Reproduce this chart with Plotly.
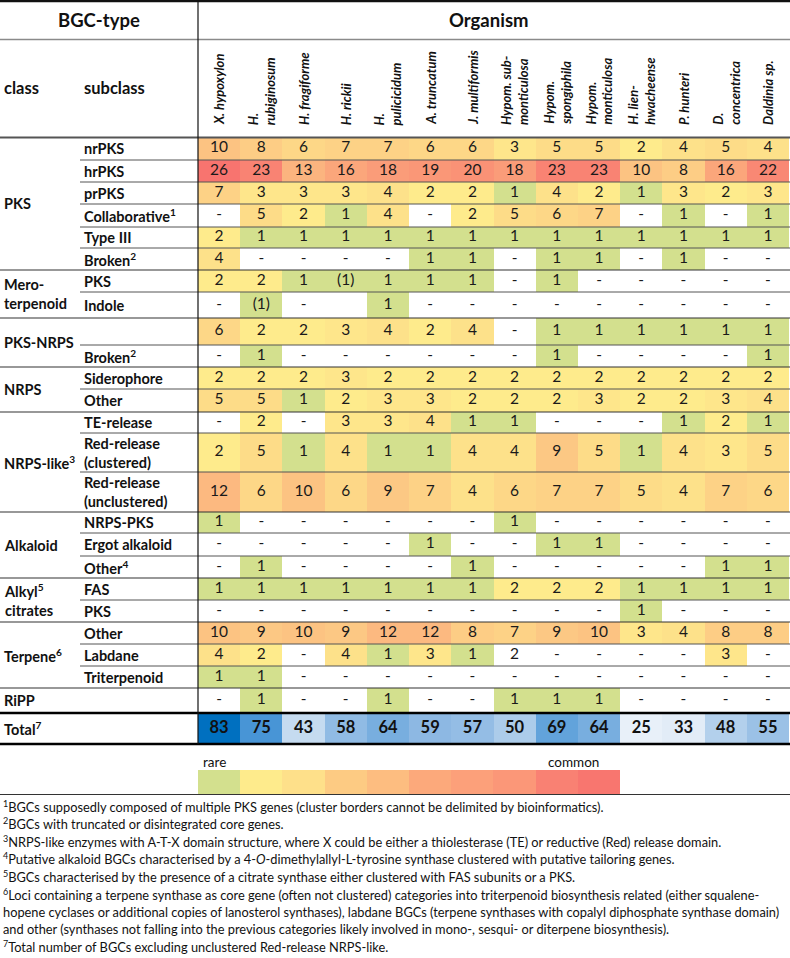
import numpy as np
import plotly.graph_objects as go

organisms = ["X. hypoxylon", "H.<br>rubiginosum", "H. fragiforme", "H. rickii", "H.<br>pulicicidum",
             "A. truncatum", "J. multiformis", "Hypom. sub-<br>monticulosa", "Hypom.<br>spongiphila",
             "Hypom.<br>monticulosa", "H. lien-<br>hwacheense", "P. hunteri", "D.<br>concentrica",
             "Daldinia sp."]

# "-" = none, "(1)" = putative, "" = empty cell
nrpks = ["10", "8", "6", "7", "7", "6", "6", "3", "5", "5", "2", "4", "5", "4"]
hrpks = ["26", "23", "13", "16", "18", "19", "20", "18", "23", "23", "10", "8", "16", "22"]
prpks = ["7", "3", "3", "3", "4", "2", "2", "1", "4", "2", "1", "3", "2", "3"]
collaborative = ["-", "5", "2", "1", "4", "-", "2", "5", "6", "7", "-", "1", "-", "1"]
type_iii = ["2", "1", "1", "1", "1", "1", "1", "1", "1", "1", "1", "1", "1", "1"]
pks_broken = ["4", "-", "-", "-", "-", "1", "1", "-", "1", "1", "-", "1", "-", "-"]
mero_pks = ["2", "2", "1", "(1)", "1", "1", "1", "-", "1", "-", "-", "-", "-", "-"]
mero_indole = ["-", "(1)", "-", "", "1", "-", "-", "-", "-", "-", "-", "-", "-", "-"]
pks_nrps = ["6", "2", "2", "3", "4", "2", "4", "-", "1", "1", "1", "1", "1", "1"]
pks_nrps_broken = ["-", "1", "-", "-", "-", "-", "-", "-", "1", "-", "-", "-", "-", "1"]
siderophore = ["2", "2", "2", "3", "2", "2", "2", "2", "2", "2", "2", "2", "2", "2"]
nrps_other = ["5", "5", "1", "2", "3", "3", "2", "2", "2", "3", "2", "2", "3", "4"]
te_release = ["-", "2", "-", "3", "3", "4", "1", "1", "-", "-", "-", "1", "2", "1"]
red_clustered = ["2", "5", "1", "4", "1", "1", "4", "4", "9", "5", "1", "4", "3", "5"]
red_unclustered = ["12", "6", "10", "6", "9", "7", "4", "6", "7", "7", "5", "4", "7", "6"]
alk_nrps_pks = ["1", "-", "-", "-", "-", "-", "-", "1", "-", "-", "-", "-", "-", "-"]
ergot = ["-", "-", "-", "-", "-", "1", "-", "-", "1", "1", "-", "-", "-", "-"]
alk_other = ["-", "1", "-", "-", "-", "-", "1", "-", "-", "-", "-", "-", "1", "1"]
citr_fas = ["1", "1", "1", "1", "1", "1", "1", "2", "2", "2", "1", "1", "1", "1"]
citr_pks = ["-", "-", "-", "-", "-", "-", "-", "-", "-", "-", "1", "-", "-", "-"]
terp_other = ["10", "9", "10", "9", "12", "12", "8", "7", "9", "10", "3", "4", "8", "8"]
labdane = ["4", "2", "-", "4", "1", "3", "1", "2", "-", "-", "-", "-", "3", "-"]
triterpenoid = ["1", "1", "-", "-", "-", "-", "-", "-", "-", "-", "-", "-", "-", "-"]
ripp = ["-", "1", "-", "-", "1", "-", "-", "1", "1", "1", "-", "-", "-", "-"]
totals = [83, 75, 43, 58, 64, 59, 57, 50, 69, 64, 25, 33, 48, 55]

# cells printed without colour fill (row, column)
uncoloured = [(21, 7)]

subclasses = ["nrPKS", "hrPKS", "prPKS", "Collaborative<sup>1</sup>", "Type III", "Broken<sup>2</sup>",
              "PKS", "Indole", "", "Broken<sup>2</sup>", "Siderophore", "Other", "TE-release",
              "Red-release<br>(clustered)", "Red-release<br>(unclustered)", "NRPS-PKS", "Ergot alkaloid",
              "Other<sup>4</sup>", "FAS", "PKS", "Other", "Labdane", "Triterpenoid", ""]
classes = ["PKS", "Mero-<br>terpenoid", "PKS-NRPS", "NRPS", "NRPS-like<sup>3</sup>", "Alkaloid",
           "Alkyl<sup>5</sup><br>citrates", "Terpene<sup>6</sup>", "RiPP"]
class_rows = [6, 2, 2, 2, 3, 3, 2, 3, 1]

legend_colors = ["#D3E08E", "#FEEB8C", "#FEE08A", "#FDCB83", "#FDBD80",
                 "#FCA97B", "#FCA07A", "#FB9778", "#F98173", "#F8766F"]

footnotes = [
    "<sup>1</sup>BGCs supposedly composed of multiple PKS genes (cluster borders cannot be delimited by bioinformatics).",
    "<sup>2</sup>BGCs with truncated or disintegrated core genes.",
    "<sup>3</sup>NRPS-like enzymes with A-T-X domain structure, where X could be either a thiolesterase (TE) or reductive (Red) release domain.",
    "<sup>4</sup>Putative alkaloid BGCs characterised by a 4-<i>O</i>-dimethylallyl-L-tyrosine synthase clustered with putative tailoring genes.",
    "<sup>5</sup>BGCs characterised by the presence of a citrate synthase either clustered with FAS subunits or a PKS.",
    "<sup>6</sup>Loci containing a terpene synthase as core gene (often not clustered) categories into triterpenoid biosynthesis related (either squalene-",
    "hopene cyclases or additional copies of lanosterol synthases), labdane BGCs (terpene synthases with copalyl diphosphate synthase domain)",
    "and other (synthases not falling into the previous categories likely involved in mono-, sesqui- or diterpene biosynthesis).",
    "<sup>7</sup>Total number of BGCs excluding unclustered Red-release NRPS-like.",
]

rows = [nrpks, hrpks, prpks, collaborative, type_iii, pks_broken, mero_pks, mero_indole, pks_nrps,
        pks_nrps_broken, siderophore, nrps_other, te_release, red_clustered, red_unclustered, alk_nrps_pks,
        ergot, alk_other, citr_fas, citr_pks, terp_other, labdane, triterpenoid, ripp]

FONT = "Lato"
W, H = 790, 958
col_edges = np.linspace(198, 789, len(organisms) + 1)
col_mid = (col_edges[:-1] + col_edges[1:]) / 2
row_edges = np.array([137, 160, 182, 204, 227, 248, 270, 292, 318, 345, 367, 389, 412, 433,
                      472, 512, 533, 556, 578, 600, 622, 644, 666, 688, 713])
row_mid = (row_edges[:-1] + row_edges[1:]) / 2
tot_edges = [713, 744]


def to_num(s):
    s = s.strip("()")
    return float(s) if s.isdigit() else None


z = [[to_num(v) for v in r] for r in rows]
for (ri, ci) in uncoloured:
    z[ri][ci] = None

fig = go.Figure()

fig.add_trace(go.Heatmap(
    x=col_edges, y=row_edges, z=z, zmin=1, zmax=26, showscale=False, hoverinfo="skip",
    colorscale=[[0, "#D3E08E"], [1 / 25, "#FEEB8C"], [1, "#F8746F"]]))

fig.add_trace(go.Heatmap(
    x=col_edges, y=tot_edges, z=[totals], zmin=25, zmax=83, showscale=False, hoverinfo="skip",
    colorscale=[[0, "#E8F0F9"], [0.14, "#E2ECF7"], [0.31, "#C5DBF0"], [0.59, "#8CB8E3"],
                [0.86, "#4996D6"], [1, "#0070C0"]]))

# legend bar
n = len(legend_colors)
leg_edges = [col_edges[0] + i * (col_edges[1] - col_edges[0]) for i in range(n + 1)]
leg_scale = []
for i, c in enumerate(legend_colors):
    leg_scale += [[i / n, c], [(i + 1) / n, c]]
fig.add_trace(go.Heatmap(
    x=leg_edges, y=[770, 794], z=[[i + 0.5 for i in range(n)]], zmin=0, zmax=n,
    colorscale=leg_scale, showscale=False, hoverinfo="skip"))

# cell numbers
tx, ty, tt = [], [], []
for ri, r in enumerate(rows):
    for ci, v in enumerate(r):
        if v:
            tx.append(col_mid[ci]); ty.append(row_mid[ri]); tt.append(v)
fig.add_trace(go.Scatter(x=tx, y=ty, text=tt, mode="text", hoverinfo="skip",
                         textfont=dict(family=FONT, size=15.5, color="#1a1a1a")))
fig.add_trace(go.Scatter(x=col_mid, y=[729] * len(totals), text=[f"<b>{t}</b>" for t in totals],
                         mode="text", hoverinfo="skip",
                         textfont=dict(family=FONT, size=16.5, color="#111")))

ann = []


def label(x, y, text, size=14, bold=True, xanchor="left", **kw):
    ann.append(dict(x=x, y=y, text=f"<b>{text}</b>" if bold else text, showarrow=False,
                    xanchor=xanchor, yanchor=kw.pop("yanchor", "middle"),
                    font=dict(family=FONT, size=size, color="#111"), **kw))


label(99, 20, "BGC-type", size=18.5, xanchor="center")
label(489, 20, "Organism", size=18.5, xanchor="center")
label(2, 88, "class", size=16.5)
label(82, 88, "subclass", size=16.5)

for ci, org in enumerate(organisms):
    label(col_mid[ci], 127, f"<i>{org}</i>", size=13, xanchor="center", yanchor="bottom",
          textangle=-90, align="left")

for ri, sc in enumerate(subclasses):
    if sc:
        label(82, row_mid[ri], sc, size=14.5, align="left")

start = 0
for cl, nrow in zip(classes, class_rows):
    yc = (row_edges[start] + row_edges[start + nrow]) / 2
    label(2, yc, cl, size=14.5, align="left")
    start += nrow
label(2, 728.5, "Total<sup>7</sup>", size=14.5)

label(col_edges[0] + 3, 762, "rare", size=13.5, bold=False)
label(573, 762, "common", size=13.5, bold=False, xanchor="center")

for i, fn in enumerate(footnotes):
    label(1, 806 + i * 17.6, fn, size=12.8, bold=False)

fig.update_layout(annotations=ann)

# rules
shapes = []


def hline(y, x0=0, x1=W, color="#444", width=1):
    shapes.append(dict(type="line", xref="x", yref="y", x0=x0, x1=x1, y0=y, y1=y,
                       line=dict(color=color, width=width)))


hline(1, width=2.5, color="#111")
hline(39.5, color="#8a8a8a", width=1.5)
hline(137.5, color="#555", width=2)
group_idx = set(np.cumsum(class_rows)[:-1])
for i in range(1, len(row_edges) - 1):
    if i in group_idx:
        hline(row_edges[i], color="#333", width=1.2)
    else:
        hline(row_edges[i], x0=80, color="#555", width=1)
hline(713, color="#000", width=2.5)
hline(744, color="#000", width=2.5)
hline(794.5, color="#333", width=1)
shapes.append(dict(type="line", xref="x", yref="y", x0=198, x1=198, y0=0, y1=744,
                   line=dict(color="#111", width=1.2)))
fig.update_layout(shapes=shapes)

fig.update_layout(
    width=W, height=H, margin=dict(l=0, r=0, t=0, b=0),
    paper_bgcolor="white", plot_bgcolor="white", showlegend=False,
    xaxis=dict(range=[0, W], visible=False, fixedrange=True),
    yaxis=dict(range=[H, 0], visible=False, fixedrange=True),
)

fig.write_html("out.html", config={"displayModeBar": False},
               post_script="document.body.style.margin='0';document.body.style.overflow='hidden';")
